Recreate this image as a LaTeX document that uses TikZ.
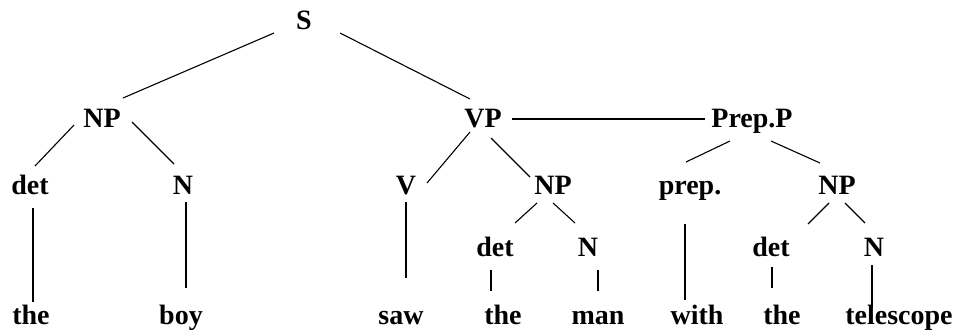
\documentclass[tikz,border=0pt]{standalone}
\usepackage{fontspec}
\setmainfont{Liberation Serif}
\begin{document}
\begin{tikzpicture}[x=1pt,y=-1pt,
  lbl/.style={anchor=base,inner sep=0pt,font=\fontsize{28}{30}\selectfont\bfseries},
  br/.style={line width=1.1pt,black}]
\useasboundingbox (0,0) rectangle (958,333);
% nodes
\node[lbl] (S) at (304,29) {S};
\node[lbl] (NPa) at (102,127) {NP};
\node[lbl] (VP) at (483,127) {VP};
\node[lbl] (PP) at (752,127) {Prep.P};
\node[lbl] (deta) at (30,194) {det};
\node[lbl] (Na) at (183,194) {N};
\node[lbl] (V) at (406,194) {V};
\node[lbl] (NPb) at (553,194) {NP};
\node[lbl] (prep) at (690,194) {prep.};
\node[lbl] (NPc) at (837,194) {NP};
\node[lbl] (detb) at (495,256) {det};
\node[lbl] (Nb) at (588,256) {N};
\node[lbl] (detc) at (771,256) {det};
\node[lbl] (Nc) at (874,256) {N};
\node[lbl] (w1) at (31,324) {the};
\node[lbl] (w2) at (181,324) {boy};
\node[lbl] (w3) at (401,324) {saw};
\node[lbl] (w4) at (503,324) {the};
\node[lbl] (w5) at (598,324) {man};
\node[lbl] (w6) at (697,324) {with};
\node[lbl] (w7) at (782,324) {the};
\node[lbl] (w8) at (899,324) {telescope};
% branches
\draw[br] ([shift={(-30,4)}]S.base) -- ([shift={(21,-29)}]NPa.base);
\draw[br] ([shift={(36,4)}]S.base) -- ([shift={(-13,-28)}]VP.base);
\draw[br] ([shift={(-28,-2)}]NPa.base) -- ([shift={(5,-28)}]deta.base);
\draw[br] ([shift={(30,-5)}]NPa.base) -- ([shift={(-9,-30)}]Na.base);
\draw[br] ([shift={(-13,5)}]VP.base) -- ([shift={(21,-11)}]V.base);
\draw[br] ([shift={(8,11)}]VP.base) -- ([shift={(-23,-17)}]NPb.base);
\draw[br] ([shift={(29,-8)}]VP.base) -- ([shift={(-47,-8)}]PP.base);
\draw[br] ([shift={(-22,14)}]PP.base) -- ([shift={(-4,-32)}]prep.base);
\draw[br] ([shift={(19,14)}]PP.base) -- ([shift={(-17,-31)}]NPc.base);
\draw[br] ([shift={(3,14)}]deta.base) -- ([shift={(2,-22)}]w1.base);
\draw[br] ([shift={(3,8)}]Na.base) -- ([shift={(5,-36)}]w2.base);
\draw[br] ([shift={(0,8)}]V.base) -- ([shift={(5,-46)}]w3.base);
\draw[br] ([shift={(-16,9)}]NPb.base) -- ([shift={(20,-33)}]detb.base);
\draw[br] ([shift={(0,9)}]NPb.base) -- ([shift={(-13,-33)}]Nb.base);
\draw[br] ([shift={(-4,14)}]detb.base) -- ([shift={(-12,-33)}]w4.base);
\draw[br] ([shift={(10,14)}]Nb.base) -- ([shift={(0,-33)}]w5.base);
\draw[br] ([shift={(-5,30)}]prep.base) -- ([shift={(-12,-24)}]w6.base);
\draw[br] ([shift={(-8,9)}]NPc.base) -- ([shift={(37,-32)}]detc.base);
\draw[br] ([shift={(8,9)}]NPc.base) -- ([shift={(-9,-33)}]Nc.base);
\draw[br] ([shift={(1,11)}]detc.base) -- ([shift={(-10,-36)}]w7.base);
\draw[br] ([shift={(-2,9)}]Nc.base) -- ([shift={(-27,-16)}]w8.base);
\end{tikzpicture}
\end{document}
